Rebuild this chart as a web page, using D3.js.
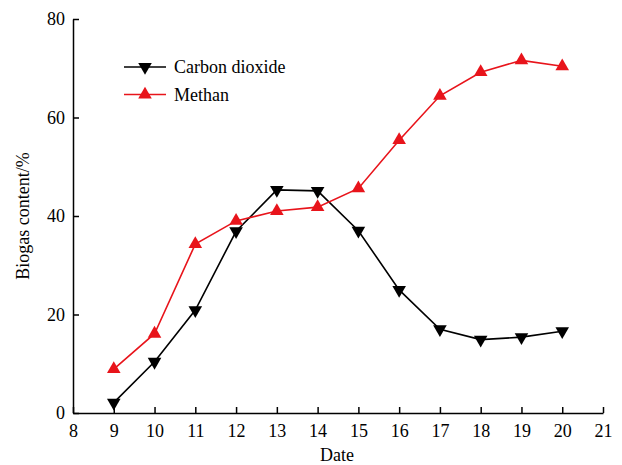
<!DOCTYPE html>
<head>
  <meta charset="utf-8">
  <script src="https://d3js.org/d3.v7.min.js"></script>
  <style>
    body { margin: 0; background: #fff; }
    text { font-family: "Liberation Serif", "Times New Roman", serif; }
    .axis path, .axis line { stroke: #000; stroke-width: 1.5; }
    .axis text { font-size: 18px; fill: #000; }
  </style>
</head>
<body>
  <script>
    // chart values
    var dates = [9, 10, 11, 12, 13, 14, 15, 16, 17, 18, 19, 20];
    var co2 = [2.1, 10.4, 20.9, 36.9, 45.3, 45.1, 37.0, 25.0, 17.0, 14.9, 15.4, 16.6];
    var methan = [8.9, 16.1, 34.3, 39.0, 41.0, 41.8, 45.6, 55.4, 64.4, 69.2, 71.6, 70.4];
    var xTicks = [8, 9, 10, 11, 12, 13, 14, 15, 16, 17, 18, 19, 20, 21];
    var yTicks = [0, 20, 40, 60, 80];

    var margin = { top: 19, right: 19, bottom: 52, left: 73 };
    var width = 622 - margin.left - margin.right;
    var height = 465 - margin.top - margin.bottom;

    var svg = d3.select("body").append("svg")
        .attr("width", 622)
        .attr("height", 465)
      .append("g")
        .attr("transform", "translate(" + margin.left + "," + margin.top + ")");

    var x = d3.scaleLinear().domain([8, 21]).range([0, width]);
    var y = d3.scaleLinear().domain([0, 80]).range([height, 0]);

    // axes, ticks pointing inward
    svg.append("g")
        .attr("class", "axis")
        .attr("transform", "translate(0," + height + ")")
        .call(d3.axisBottom(x).tickValues(xTicks).tickSizeInner(-6).tickSizeOuter(0).tickPadding(11))
        .selectAll("text").attr("dy", "0.71em");

    svg.append("g")
        .attr("class", "axis")
        .call(d3.axisLeft(y).tickValues(yTicks).tickSizeInner(-6).tickSizeOuter(0).tickPadding(8));

    // axis titles
    svg.append("text")
        .attr("x", width / 2 - 1)
        .attr("y", height + 48)
        .attr("text-anchor", "middle")
        .style("font-size", "18px")
        .text("Date");

    svg.append("text")
        .attr("transform", "translate(" + (-44) + "," + (height / 2) + ") rotate(-90)")
        .attr("text-anchor", "middle")
        .style("font-size", "18px")
        .text("Biogas content/%");

    var series = [
      { name: "Carbon dioxide", values: co2, color: "#000", shape: "down" },
      { name: "Methan", values: methan, color: "#e8141b", shape: "up" }
    ];

    var line = d3.line()
        .x(function(d) { return x(d.date); })
        .y(function(d) { return y(d.value); });

    var upTri = d3.symbol().type(d3.symbolTriangle).size(80);

    function marker(sel, shape) {
      sel.attr("d", upTri())
         .attr("transform", function(d) {
           var t = "translate(" + x(d.date) + "," + y(d.value) + ")";
           return shape === "down" ? t + " rotate(180)" : t;
         });
    }

    series.forEach(function(s) {
      var pts = dates.map(function(dt, i) { return { date: dt, value: s.values[i] }; });

      svg.append("path")
          .datum(pts)
          .attr("fill", "none")
          .attr("stroke", s.color)
          .attr("stroke-width", 1.6)
          .attr("d", line);

      svg.selectAll(".m-" + s.shape)
          .data(pts)
        .enter().append("path")
          .attr("class", "m-" + s.shape)
          .attr("fill", s.color)
          .call(marker, s.shape);
    });

    // legend
    var legend = svg.append("g").attr("transform", "translate(51,48)");
    series.forEach(function(s, i) {
      var g = legend.append("g").attr("transform", "translate(0," + (i * 27.5) + ")");
      g.append("line")
          .attr("x1", 0).attr("x2", 42)
          .attr("stroke", s.color)
          .attr("stroke-width", 1.6);
      g.append("path")
          .attr("fill", s.color)
          .attr("d", upTri())
          .attr("transform", "translate(21,0)" + (s.shape === "down" ? " rotate(180)" : ""));
      g.append("text")
          .attr("x", 50)
          .attr("dy", "0.35em")
          .style("font-size", "18px")
          .text(s.name);
    });
  </script>
</body>
